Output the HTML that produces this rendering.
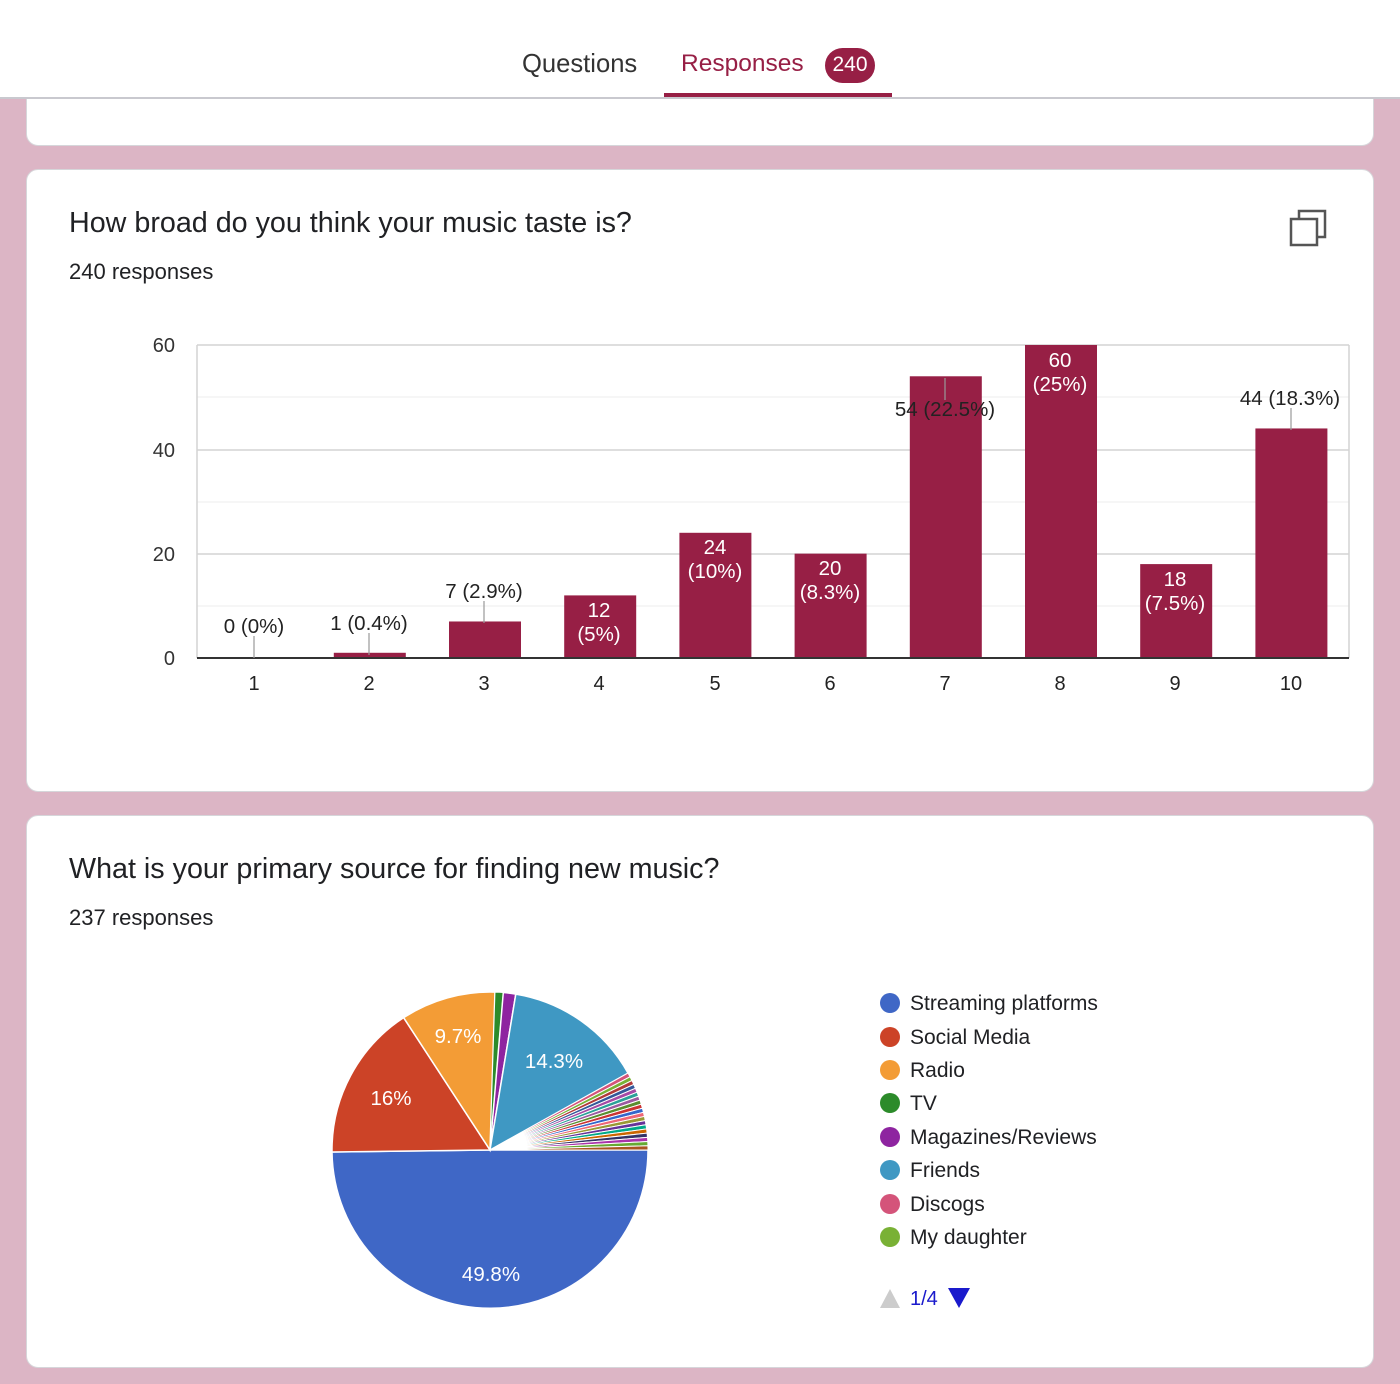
<!DOCTYPE html>
<html><head><meta charset="utf-8"><style>
body{margin:0;width:1400px;height:1384px;background:#dcb5c5;font-family:"Liberation Sans",Arial,sans-serif;position:relative;overflow:hidden}
.hdr{position:absolute;left:0;top:0;width:1400px;height:97px;background:#fff;border-bottom:2px solid #c9c9cf;z-index:2}
.card{position:absolute;left:26px;width:1346px;background:#fff;border:1px solid #d6d6da;border-radius:12px}
.t{position:absolute;white-space:nowrap}
</style></head><body>
<div class="hdr">
<div class="t" style="left:522px;top:50px;font-size:25.6px;color:#333">Questions</div>
<div class="t" style="left:681px;top:50px;font-size:24.5px;color:#971f45">Responses</div>
<div class="t" style="left:825px;top:48px;width:50px;height:35px;border-radius:18px;background:#971f45;color:#fff;font-size:21px;text-align:center;line-height:34px">240</div>
<div class="t" style="left:664px;top:93px;width:228px;height:4px;background:#971f45"></div>
</div>
<div class="card" style="top:60px;height:84px"></div>
<div class="card" style="top:169px;height:621px">
<div class="t" style="left:42px;top:37px;font-size:28.7px;color:#202124">How broad do you think your music taste is?</div>
<div class="t" style="left:42px;top:89px;font-size:22px;color:#202124">240 responses</div>
</div>
<div class="card" style="top:815px;height:551px">
<div class="t" style="left:42px;top:37px;font-size:28.7px;color:#202124">What is your primary source for finding new music?</div>
<div class="t" style="left:42px;top:89px;font-size:22px;color:#202124">237 responses</div>
</div>
<svg id="s" width="1400" height="1384" style="position:absolute;left:0;top:0;z-index:1" font-family="Liberation Sans,Arial,sans-serif">
<g fill="none" stroke="#555" stroke-width="2.5"><rect x="1291" y="219" width="26" height="26"/><path d="M1299 219V211h26v26h-8"/></g>
<g stroke="#ececec" stroke-width="1"><line x1="197" x2="1349" y1="397" y2="397"/><line x1="197" x2="1349" y1="502" y2="502"/><line x1="197" x2="1349" y1="606" y2="606"/></g>
<g stroke="#d4d4d4" stroke-width="1.5"><line x1="197" x2="1349" y1="345" y2="345"/><line x1="197" x2="1349" y1="450" y2="450"/><line x1="197" x2="1349" y1="554" y2="554"/><line x1="197" x2="197" y1="345" y2="658"/><line x1="1349" x2="1349" y1="345" y2="658"/></g>
<g font-size="20" fill="#333" text-anchor="end"><text x="175" y="352">60</text><text x="175" y="457">40</text><text x="175" y="561">20</text><text x="175" y="665">0</text></g>
<g id="bars" fill="#971f45"></g>
<line x1="197" x2="1349" y1="658" y2="658" stroke="#333" stroke-width="2"/>
<g font-size="20" fill="#222" text-anchor="middle">
<text x="254" y="690">1</text><text x="369" y="690">2</text><text x="484" y="690">3</text><text x="599" y="690">4</text><text x="715" y="690">5</text><text x="830" y="690">6</text><text x="945" y="690">7</text><text x="1060" y="690">8</text><text x="1175" y="690">9</text><text x="1291" y="690">10</text>
</g>
<g stroke="#999" stroke-width="1.2"><line x1="254" x2="254" y1="636" y2="658"/><line x1="369" x2="369" y1="633" y2="655"/><line x1="484" x2="484" y1="601" y2="623"/><line x1="945" x2="945" y1="378" y2="400"/><line x1="1291" x2="1291" y1="408" y2="430"/></g>
<g font-size="20.5" fill="#222" text-anchor="middle">
<text x="254" y="633">0 (0%)</text><text x="369" y="630">1 (0.4%)</text><text x="484" y="598">7 (2.9%)</text><text x="945" y="416">54 (22.5%)</text><text x="1290" y="405">44 (18.3%)</text>
</g>
<g font-size="20.5" fill="#fff" text-anchor="middle">
<text x="599" y="617">12</text><text x="599" y="641">(5%)</text>
<text x="715" y="554">24</text><text x="715" y="578">(10%)</text>
<text x="830" y="575">20</text><text x="830" y="599">(8.3%)</text>
<text x="1060" y="367">60</text><text x="1060" y="391">(25%)</text>
<text x="1175" y="586">18</text><text x="1175" y="610">(7.5%)</text>
</g>
<g id="pie"></g>
<g font-size="20.5" fill="#fff" text-anchor="middle">
<text x="491" y="1281">49.8%</text><text x="391" y="1105">16%</text><text x="458" y="1043">9.7%</text><text x="554" y="1068">14.3%</text>
</g>
<g font-size="21" fill="#202124">
<circle cx="890" cy="1003" r="10" fill="#3f67c6"/><text x="910" y="1010">Streaming platforms</text>
<circle cx="890" cy="1037" r="10" fill="#cc4327"/><text x="910" y="1044">Social Media</text>
<circle cx="890" cy="1070" r="10" fill="#f39c36"/><text x="910" y="1077">Radio</text>
<circle cx="890" cy="1103" r="10" fill="#2c8b2a"/><text x="910" y="1110">TV</text>
<circle cx="890" cy="1137" r="10" fill="#8e24a0"/><text x="910" y="1144">Magazines/Reviews</text>
<circle cx="890" cy="1170" r="10" fill="#3f98c3"/><text x="910" y="1177">Friends</text>
<circle cx="890" cy="1204" r="10" fill="#d4547a"/><text x="910" y="1211">Discogs</text>
<circle cx="890" cy="1237" r="10" fill="#79b135"/><text x="910" y="1244">My daughter</text>
</g>
<path d="M880 1308l10-19 10 19z" fill="#ccc"/>
<text x="910" y="1305" font-size="20" fill="#1a1acc">1/4</text>
<path d="M948 1288h22l-11 20z" fill="#1a1acc"/>
</svg>
<script>
var NS="http://www.w3.org/2000/svg";
var vals=[0,1,7,12,24,20,54,60,18,44],b=document.getElementById("bars");
vals.forEach(function(v,i){var cx=254.6+i*115.2,h=v*5.217;var r=document.createElementNS(NS,"rect");
r.setAttribute("x",cx-36);r.setAttribute("width",72);r.setAttribute("y",658-h);r.setAttribute("height",h);b.appendChild(r);});
var p=document.getElementById("pie"),cx=490,cy=1150,R=158;
var sl=[[49.8,"#3f67c6"],[16,"#cc4327"],[9.7,"#f39c36"],[0.84,"#2c8b2a"],[1.27,"#8e24a0"],[14.3,"#3f98c3"]];
var oc=["#d4547a","#79b135","#b23a3a","#34589a","#a54aa5","#2aa198","#9c5aa0","#5a8e2e","#c33","#36c","#e67","#993","#663399","#0a8","#c60","#336","#a3a","#6a3","#a52"];
oc.forEach(function(c){sl.push([8.09/19,c]);});
var a=90;
sl.forEach(function(s){var a2=a+s[0]*3.6;function pt(d){var r=d*Math.PI/180;return (cx+R*Math.sin(r)).toFixed(2)+" "+(cy-R*Math.cos(r)).toFixed(2);}
var e=document.createElementNS(NS,"path");e.setAttribute("d","M"+cx+" "+cy+"L"+pt(a)+"A"+R+" "+R+" 0 "+((a2-a)>180?1:0)+" 1 "+pt(a2)+"Z");
e.setAttribute("fill",s[1]);e.setAttribute("stroke","#fff");e.setAttribute("stroke-width",s[0]<1?1:1.5);p.appendChild(e);a=a2;});
</script>
</body></html>
